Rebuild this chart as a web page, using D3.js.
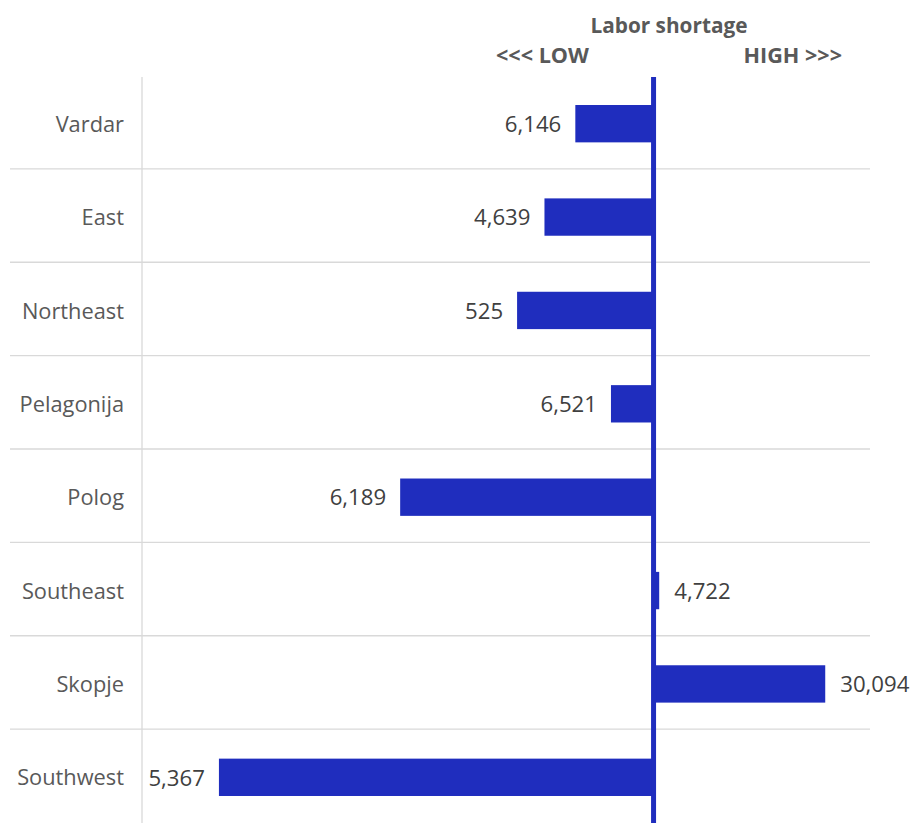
<!DOCTYPE html>
<html>
<head>
<meta charset="utf-8">
<script src="https://cdn.jsdelivr.net/npm/d3@7"></script>
<style>
  html, body { margin: 0; padding: 0; background: #ffffff; }
  svg { display: block; font-family: "Open Sans", "DejaVu Sans", sans-serif; }
</style>
</head>
<body>
<svg id="chart" width="911" height="823"></svg>
<script>
// ---- data ----
const categories = ["Vardar", "East", "Northeast", "Pelagonija", "Polog", "Southeast", "Skopje", "Southwest"];
const shortageIndex = [-0.180, -0.251, -0.314, -0.098, -0.583, 0.013, 0.395, -1.000];
const barLabels = [6146, 4639, 525, 6521, 6189, 4722, 30094, 5367];
const chartTitle = "Labor shortage";
const directionLabels = ["<<< LOW", "HIGH >>>"];

// ---- layout ----
const svg = d3.select("#chart");
const plotLeft = 142, plotRight = 870, plotTop = 77, plotBottom = 823;
const barColor = "#1f2dbe";
const textColor = "#404040";
const labelColor = "#595959";

const x = d3.scaleLinear().domain([-1.177, 0.498]).range([plotLeft, plotRight]);
const y = d3.scaleBand().domain(categories).range([77, 824]).paddingInner(0).paddingOuter(0);
const step = y.step();
const barH = step * 0.4;

const rows = categories.map((c, i) => ({ cat: c, v: shortageIndex[i], lab: barLabels[i] }));

// separators between rows
svg.append("g").selectAll("line")
  .data(categories.slice(1))
  .join("line")
  .attr("x1", 10).attr("x2", plotRight)
  .attr("y1", d => y(d) - 1.5).attr("y2", d => y(d) - 1.5)
  .attr("stroke", "#d9d9d9").attr("stroke-width", 1.3);

// category axis line
svg.append("line")
  .attr("x1", plotLeft).attr("x2", plotLeft)
  .attr("y1", plotTop).attr("y2", plotBottom)
  .attr("stroke", "#d9d9d9").attr("stroke-width", 1.3);

// category labels
svg.append("g").selectAll("text")
  .data(categories)
  .join("text")
  .attr("x", 124)
  .attr("y", d => y(d) + step / 2 + 0.5)
  .attr("dy", "0.35em")
  .attr("text-anchor", "end")
  .attr("font-size", 21.8)
  .attr("fill", labelColor)
  .text(d => d);

// bars
svg.append("g").selectAll("rect")
  .data(rows)
  .join("rect")
  .attr("x", d => Math.min(x(0), x(d.v)))
  .attr("width", d => Math.abs(x(d.v) - x(0)))
  .attr("y", d => y(d.cat) + (step - barH) / 2)
  .attr("height", barH)
  .attr("fill", barColor);

// value labels
const fmt = d3.format(",");
svg.append("g").selectAll("text")
  .data(rows)
  .join("text")
  .attr("x", d => d.v < 0 ? x(d.v) - 14 : x(d.v) + 15)
  .attr("y", d => y(d.cat) + step / 2 + 0.5)
  .attr("dy", "0.35em")
  .attr("text-anchor", d => d.v < 0 ? "end" : "start")
  .attr("font-size", 22.2)
  .attr("fill", textColor)
  .text(d => fmt(d.lab));

// zero line
svg.append("line")
  .attr("x1", x(0)).attr("x2", x(0))
  .attr("y1", plotTop).attr("y2", plotBottom)
  .attr("stroke", barColor).attr("stroke-width", 5);

// title and direction labels
svg.append("text")
  .attr("x", 669).attr("y", 33)
  .attr("text-anchor", "middle")
  .attr("font-size", 20.8).attr("font-weight", "bold")
  .attr("fill", labelColor)
  .text(chartTitle);

svg.append("text")
  .attr("x", 496).attr("y", 63)
  .attr("text-anchor", "start")
  .attr("font-size", 21.6).attr("font-weight", "bold")
  .attr("fill", labelColor)
  .text(directionLabels[0]);

svg.append("text")
  .attr("x", 842).attr("y", 63)
  .attr("text-anchor", "end")
  .attr("font-size", 21.6).attr("font-weight", "bold")
  .attr("fill", labelColor)
  .text(directionLabels[1]);
</script>
</body>
</html>
